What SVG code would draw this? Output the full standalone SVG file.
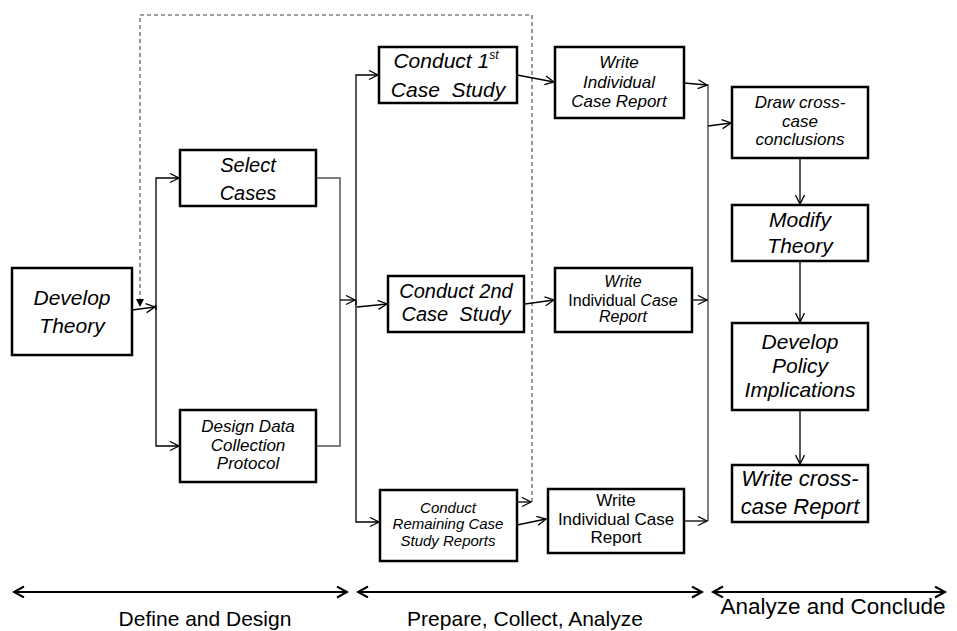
<svg xmlns="http://www.w3.org/2000/svg" width="957" height="631" viewBox="0 0 957 631">
<defs>
<marker id="ah" markerUnits="userSpaceOnUse" markerWidth="12" markerHeight="12" refX="10" refY="5" orient="auto">
<path d="M1,0.5 L10,5 L1,9.5" fill="none" stroke="#000" stroke-width="1.3"/>
</marker>
<marker id="ahs" markerUnits="userSpaceOnUse" markerWidth="14" markerHeight="14" refX="11" refY="6" orient="auto-start-reverse">
<path d="M1,0.5 L11,6 L1,11.5" fill="none" stroke="#000" stroke-width="2"/>
</marker>
</defs>
<style>
.box{fill:#fff;stroke:#000;stroke-width:2.5}
.t{font-family:"Liberation Sans",Arial,sans-serif;font-style:italic;text-anchor:middle;fill:#000}
.r{font-family:"Liberation Sans",Arial,sans-serif;text-anchor:middle;fill:#000}
.c{fill:none;stroke:#000;stroke-width:1.3}
.g{fill:none;stroke:#7f7f7f;stroke-width:2}
.d{fill:none;stroke:#7f7f7f;stroke-width:1.6;stroke-dasharray:4,3}
</style>
<g id="connectors">
<path class="d" d="M532,502 V15 H140 V300"/>
<path d="M136,299 L144,299 L140,307 Z" fill="#000"/>
<path class="c" d="M518,502 L531,502" marker-end="url(#ah)"/>
<line x1="125" y1="303" x2="132" y2="311" stroke="#4f81bd" stroke-width="1.3"/>
<path class="c" d="M132,310 L155,307" marker-end="url(#ah)"/>
<path class="c" d="M156,310 V178 H179" marker-end="url(#ah)"/>
<path class="c" d="M156,305 V446 H179" marker-end="url(#ah)"/>
<path class="g" d="M316,178 H340 V446 H316"/>
<path class="c" d="M340,300 H355" marker-end="url(#ah)"/>
<path class="c" d="M356,305 V75 H378" marker-end="url(#ah)"/>
<path class="c" d="M356,300 V522 H379" marker-end="url(#ah)"/>
<path class="c" d="M357,307 L387,304" marker-end="url(#ah)"/>
<path class="c" d="M517,75 L554,82" marker-end="url(#ah)"/>
<path class="c" d="M525,304 L554,300" marker-end="url(#ah)"/>
<path class="c" d="M517,525 L546,519" marker-end="url(#ah)"/>
<path class="g" d="M708,84 V521"/>
<path class="c" d="M684,83 L707,85" marker-end="url(#ah)"/>
<path class="c" d="M692,300 L707,300" marker-end="url(#ah)"/>
<path class="c" d="M684,521 L707,521" marker-end="url(#ah)"/>
<path class="c" d="M708,126 L731,123" marker-end="url(#ah)"/>
<path class="c" d="M800,158 V204" marker-end="url(#ah)"/>
<path class="c" d="M800,261 V322" marker-end="url(#ah)"/>
<path class="c" d="M800,410 V464" marker-end="url(#ah)"/>
<path d="M14,592 H347" fill="none" stroke="#000" stroke-width="2" marker-start="url(#ahs)" marker-end="url(#ahs)"/>
<path d="M358,592 H702" fill="none" stroke="#000" stroke-width="2" marker-start="url(#ahs)" marker-end="url(#ahs)"/>
<path d="M713,592 H945" fill="none" stroke="#000" stroke-width="2" marker-start="url(#ahs)" marker-end="url(#ahs)"/>
</g>
<g id="develop-theory">
<rect class="box" x="12" y="268" width="120" height="87"/>
<text class="t" x="72" y="305" font-size="21">Develop</text>
<text class="t" x="72" y="333" font-size="21">Theory</text>
</g>
<g id="select-cases">
<rect class="box" x="180" y="150" width="136" height="56"/>
<text class="t" x="248" y="172" font-size="20">Select</text>
<text class="t" x="248" y="200" font-size="20">Cases</text>
</g>
<g id="design-protocol">
<rect class="box" x="180" y="410" width="136" height="72"/>
<text class="t" x="248" y="432" font-size="17">Design Data</text>
<text class="t" x="248" y="451" font-size="17">Collection</text>
<text class="t" x="248" y="469" font-size="17">Protocol</text>
</g>
<g id="conduct-1st">
<rect class="box" x="379" y="47" width="138" height="56"/>
<text class="t" x="446" y="68" font-size="21">Conduct 1<tspan font-size="12" dy="-9">st</tspan></text>
<text class="t" x="448" y="97" font-size="21" xml:space="preserve">Case  Study</text>
</g>
<g id="conduct-2nd">
<rect class="box" x="388" y="276" width="136" height="56"/>
<text class="t" x="456" y="298" font-size="20">Conduct 2nd</text>
<text class="t" x="456" y="321" font-size="20" xml:space="preserve">Case  Study</text>
</g>
<g id="conduct-remaining">
<rect class="box" x="380" y="490" width="137" height="71"/>
<text class="t" x="448" y="513" font-size="15">Conduct</text>
<text class="t" x="448" y="529" font-size="15">Remaining Case</text>
<text class="t" x="448" y="546" font-size="15">Study Reports</text>
</g>
<g id="write-report-1">
<rect class="box" x="555" y="47" width="129" height="71"/>
<text class="t" x="619" y="68" font-size="17">Write</text>
<text class="t" x="619" y="88" font-size="17">Individual</text>
<text class="t" x="619" y="107" font-size="17">Case Report</text>
</g>
<g id="write-report-2">
<rect class="box" x="555" y="268" width="137" height="64"/>
<text class="t" x="623" y="287" font-size="16">Write</text>
<text class="r" x="623" y="306" font-size="16">Individual <tspan font-style="italic">Case</tspan></text>
<text class="t" x="623" y="322" font-size="16">Report</text>
</g>
<g id="write-report-3">
<rect class="box" x="548" y="489" width="136" height="64"/>
<text class="r" x="616" y="506" font-size="17">Write</text>
<text class="r" x="616" y="525" font-size="17">Individual Case</text>
<text class="r" x="616" y="543" font-size="17">Report</text>
</g>
<g id="draw-conclusions">
<rect class="box" x="732" y="87" width="136" height="71"/>
<text class="t" x="800" y="108" font-size="17">Draw cross-</text>
<text class="t" x="800" y="127" font-size="17">case</text>
<text class="t" x="800" y="145" font-size="17">conclusions</text>
</g>
<g id="modify-theory">
<rect class="box" x="732" y="205" width="136" height="56"/>
<text class="t" x="800" y="227" font-size="21">Modify</text>
<text class="t" x="800" y="253" font-size="21">Theory</text>
</g>
<g id="policy-implications">
<rect class="box" x="732" y="323" width="136" height="87"/>
<text class="t" x="800" y="349" font-size="21">Develop</text>
<text class="t" x="800" y="373" font-size="21">Policy</text>
<text class="t" x="800" y="397" font-size="21">Implications</text>
</g>
<g id="write-cross-case">
<rect class="box" x="732" y="465" width="136" height="57"/>
<text class="t" x="800" y="486" font-size="22">Write cross-</text>
<text class="t" x="800" y="514" font-size="22">case Report</text>
</g>
<g id="phase-labels">
<text class="r" x="205" y="626" font-size="21">Define and Design</text>
<text class="r" x="525" y="626" font-size="21">Prepare, Collect, Analyze</text>
<text class="r" x="833" y="614" font-size="22.5">Analyze and Conclude</text>
</g>
</svg>
